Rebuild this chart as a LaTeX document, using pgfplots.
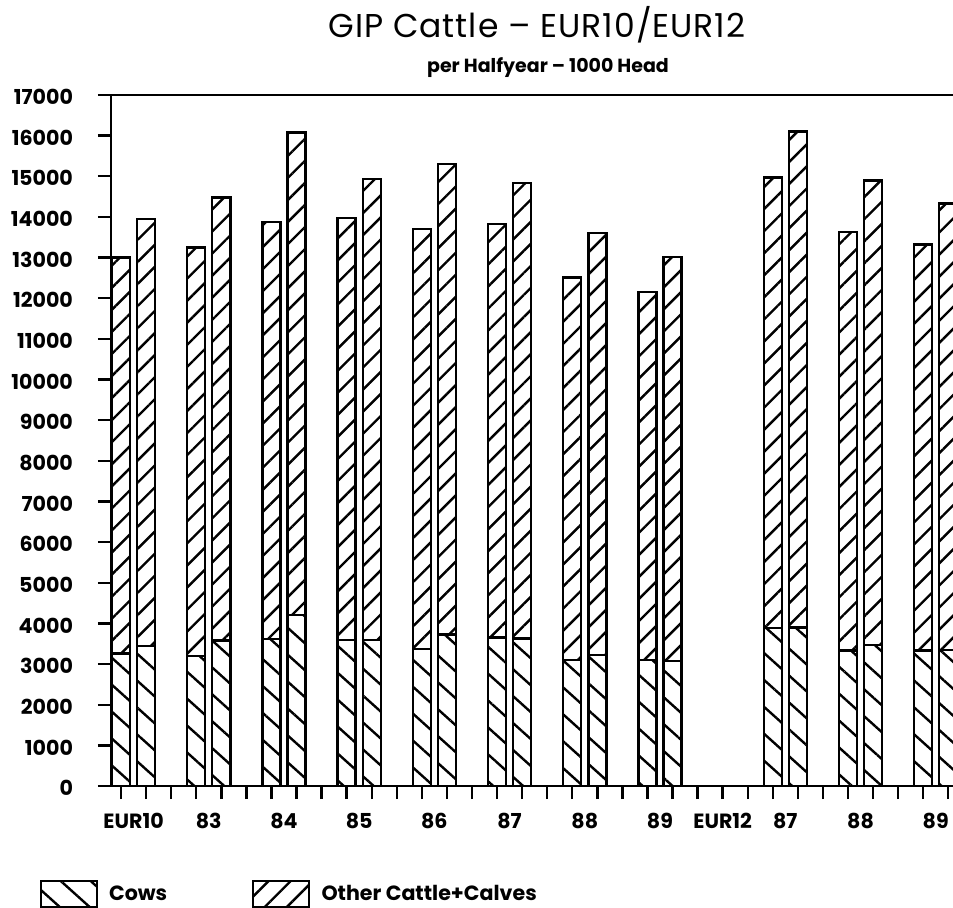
\documentclass[border=0pt]{standalone}
\usepackage{pgfplots}
\pgfplotsset{compat=1.18}
\usepackage{pgfplotstable}
\usepackage{fontspec}
\setmainfont{Poppins}
\usetikzlibrary{patterns.meta}

\pgfplotstableread{
x cows other
0 3260 9740
1 3450 10500
3 3200 10050
4 3575 10900
6 3620 10250
7 4210 11870
9 3590 10380
10 3590 11340
12 3370 10330
13 3730 11570
15 3650 10170
16 3630 11210
18 3100 9410
19 3220 10380
21 3100 9050
22 3080 9940
26 3880 11090
27 3900 12200
29 3330 10300
30 3470 11430
32 3330 9990
33 3340 10990
}\cattle

\begin{document}
\begin{tikzpicture}
\useasboundingbox (0,0) rectangle (476.5pt,453.5pt);
\begin{axis}[
  at={(55.5pt,60.5pt)}, anchor=south west,
  scale only axis, width=443.7pt, height=345.5pt,
  xmin=-0.4, xmax=35, ymin=0, ymax=17000,
  ybar stacked, bar width=9pt,
  axis line style={line width=1.4pt},
  tick style={line width=1.2pt, black},
  tick align=outside,
  xtick pos=lower, ytick pos=left,
  major tick length=6.5pt,
  xtick={0,...,34}, xticklabels={},
  extra x ticks={0.5,3.5,6.5,9.5,12.5,15.5,18.5,21.5,24,26.5,29.5,32.5},
  extra x tick labels={EUR10,83,84,85,86,87,88,89,EUR12,87,88,89},
  extra x tick style={major tick length=0pt, xticklabel style={yshift=-10pt}},
  scaled y ticks=false,
  ytick={0,1000,...,17000},
  yticklabels={0,1000,2000,3000,4000,5000,6000,7000,8000,9000,10000,11000,12000,13000,14000,15000,16000,17000},
  yticklabel style={xshift=-9pt, yshift=-1pt},
  ticklabel style={font=\bfseries\fontsize{10.3}{12}\selectfont},
  clip=false,
  legend columns=2,
  legend style={draw=none, fill=none, at={(rel axis cs:-0.0875,-0.130)}, anchor=north west,
    font=\bfseries\fontsize{10.3}{12}\selectfont,
    nodes={inner sep=0.5pt},
    /tikz/every even column/.append style={column sep=42pt}},
  legend image code/.code={\draw[#1, line width=1.1pt] (0pt,-6.5pt) rectangle (28pt,6.5pt); \path (33pt,0pt);},
]
\addplot[draw=black, line width=1.2pt, fill=white,
  postaction={pattern={Lines[angle=-42,distance=10pt,line width=1.2pt]}}]
  table[x=x,y=cows]{\cattle};
\addlegendentry{Cows}
\addplot[draw=black, line width=1.2pt, fill=white,
  postaction={pattern={Lines[angle=45,distance=7.8pt,line width=1.2pt]}}]
  table[x=x,y=other]{\cattle};
\addlegendentry{Other Cattle+Calves}
\end{axis}
\node[anchor=base, font=\fontsize{16.5}{19}\selectfont\addfontfeatures{LetterSpace=3}] at (268.5pt,434.5pt) {GIP Cattle – EUR10/EUR12};
\node[anchor=base, font=\bfseries\fontsize{9.5}{11}\selectfont] at (274pt,417pt) {per Halfyear – 1000 Head};
\end{tikzpicture}
\end{document}
